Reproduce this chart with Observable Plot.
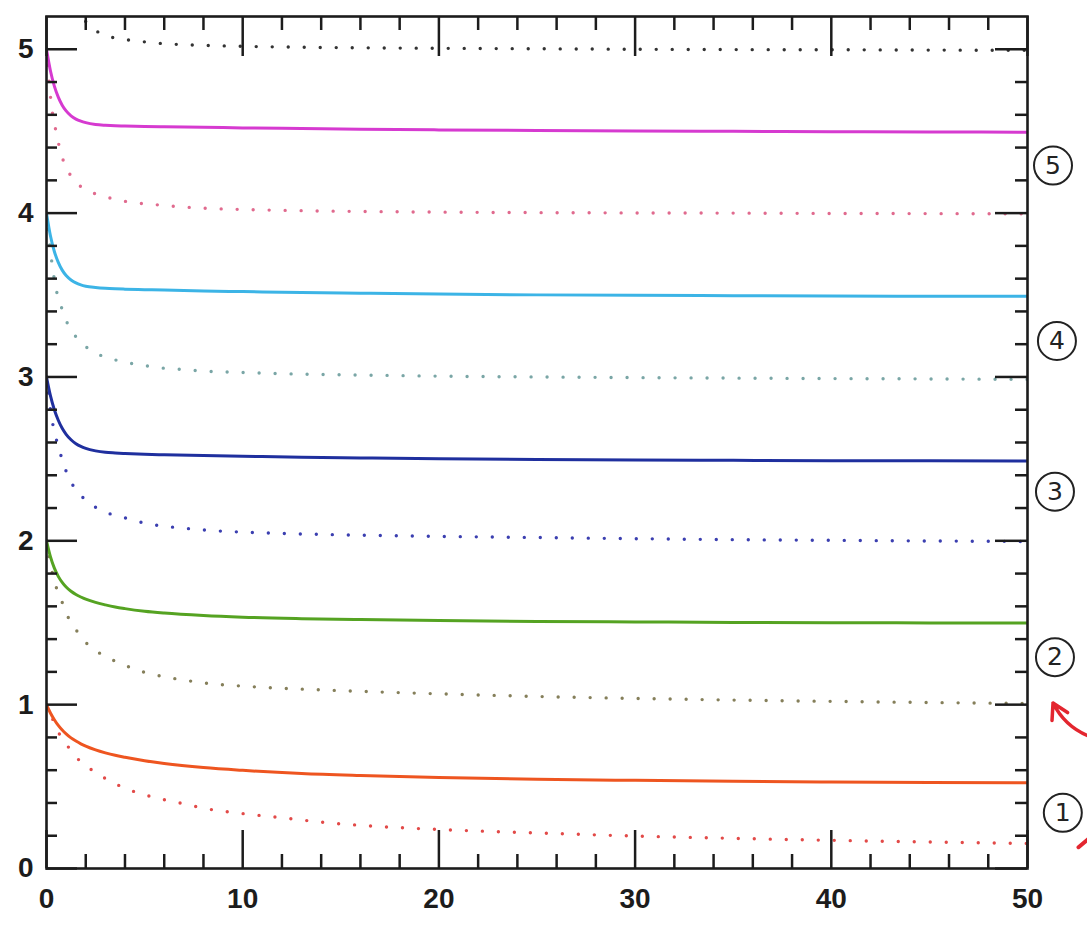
<!DOCTYPE html>
<html>
<head>
<meta charset="utf-8">
<script src="https://cdn.jsdelivr.net/npm/d3@7"></script>
<script src="https://cdn.jsdelivr.net/npm/@observablehq/plot@0.6"></script>
<style>
  html, body { margin: 0; padding: 0; background: #fff; }
  #chart svg { display: block; }
</style>
</head>
<body>
<div id="chart"></div>
<script>
// Relaxation curves: solid lines settle half a unit below their start,
// dotted lines settle a full unit below.
const xSolid = [0, 0.2, 0.4, 0.6, 0.8, 1, 1.25, 1.5, 1.75, 2, 2.5, 3, 3.5, 4, 5, 6, 8, 10, 13, 16, 20, 25, 30, 35, 40, 45, 50];
const solid5 = [5.0, 4.869, 4.775, 4.708, 4.659, 4.624, 4.594, 4.574, 4.561, 4.552, 4.541, 4.536, 4.533, 4.532, 4.529, 4.527, 4.524, 4.520, 4.516, 4.512, 4.508, 4.504, 4.501, 4.499, 4.497, 4.495, 4.494];
const solid4 = [4.0, 3.862, 3.766, 3.699, 3.652, 3.619, 3.592, 3.574, 3.562, 3.554, 3.546, 3.541, 3.538, 3.536, 3.533, 3.530, 3.525, 3.521, 3.515, 3.511, 3.506, 3.501, 3.498, 3.496, 3.494, 3.493, 3.492];
const solid3 = [3.0, 2.886, 2.800, 2.736, 2.687, 2.650, 2.617, 2.593, 2.576, 2.564, 2.549, 2.540, 2.536, 2.533, 2.528, 2.525, 2.520, 2.516, 2.510, 2.506, 2.501, 2.496, 2.493, 2.491, 2.489, 2.488, 2.487];
const solid2 = [2.0, 1.903, 1.833, 1.783, 1.746, 1.718, 1.692, 1.672, 1.657, 1.644, 1.624, 1.609, 1.596, 1.586, 1.570, 1.559, 1.544, 1.534, 1.525, 1.519, 1.513, 1.508, 1.505, 1.502, 1.500, 1.499, 1.498];
const solid1 = [1.0, 0.949, 0.908, 0.873, 0.845, 0.822, 0.797, 0.778, 0.761, 0.747, 0.724, 0.706, 0.691, 0.679, 0.658, 0.641, 0.616, 0.599, 0.580, 0.568, 0.556, 0.545, 0.538, 0.532, 0.528, 0.525, 0.523];

const xDotted = [0, 0.25, 0.5, 0.75, 1, 1.5, 2, 2.5, 3, 4, 5, 6, 7, 8, 10, 12, 14, 17, 20, 25, 30, 35, 40, 45, 50];
const dotted6 = [6.0, 5.72, 5.55, 5.44, 5.36, 5.25, 5.17, 5.115, 5.085, 5.06, 5.045, 5.034, 5.028, 5.024, 5.018, 5.014, 5.011, 5.008, 5.006, 5.003, 5.0, 4.998, 4.997, 4.995, 4.994];
const dotted5 = [5.0, 4.66, 4.49, 4.36, 4.28, 4.19, 4.142, 4.118, 4.1, 4.072, 4.057, 4.047, 4.037, 4.03, 4.022, 4.017, 4.013, 4.009, 4.006, 4.003, 4.001, 4.0, 3.998, 3.997, 3.996];
const dotted4 = [4.0, 3.72, 3.53, 3.43, 3.345, 3.245, 3.185, 3.145, 3.122, 3.09, 3.07, 3.053, 3.045, 3.036, 3.027, 3.02, 3.015, 3.01, 3.005, 3.0, 2.996, 2.993, 2.99, 2.988, 2.985];
const dotted3 = [3.0, 2.76, 2.62, 2.515, 2.425, 2.31, 2.25, 2.205, 2.175, 2.14, 2.108, 2.089, 2.077, 2.066, 2.053, 2.045, 2.039, 2.032, 2.027, 2.02, 2.013, 2.007, 2.003, 1.999, 1.996];
const dotted2 = [2.0, 1.83, 1.715, 1.64, 1.56, 1.458, 1.38, 1.33, 1.295, 1.24, 1.197, 1.17, 1.15, 1.133, 1.113, 1.1, 1.09, 1.077, 1.066, 1.05, 1.038, 1.028, 1.02, 1.013, 1.007];
const dotted1 = [1.0, 0.93, 0.86, 0.80, 0.76, 0.68, 0.63, 0.585, 0.55, 0.49, 0.45, 0.42, 0.395, 0.368, 0.335, 0.31, 0.283, 0.256, 0.238, 0.217, 0.198, 0.184, 0.172, 0.162, 0.153];

// Tick positions
const xMajor = [0, 10, 20, 30, 40, 50];
const xMinor = d3.range(2, 50, 2).filter(v => v % 10 !== 0);
const yMajor = [0, 1, 2, 3, 4, 5];
const yMinor = d3.range(1, 26).map(i => i / 5).filter(v => !Number.isInteger(v));

// Circled labels in the right margin
const noteLabels = ["5", "4", "3", "2", "1"];
const noteX = [51.3, 51.5, 51.4, 51.4, 51.8];
const noteY = [4.29, 3.22, 2.30, 1.29, 0.34];

// Red pointer toward the y = 1 level
const pointer = [{x1: 53.3, y1: 0.80, x2: 51.3, y2: 1.01}];
const pointerTail = [{x: 52.6, y: 0.13}, {x: 53.2, y: 0.19}];

const solidSeries = [
  {values: solid5, color: "#d63ad0"},
  {values: solid4, color: "#3cb4e6"},
  {values: solid3, color: "#1f2f9e"},
  {values: solid2, color: "#55a322"},
  {values: solid1, color: "#ee5520"}
];
const dottedSeries = [
  {values: dotted6, color: "#333333"},
  {values: dotted5, color: "#e06a8e"},
  {values: dotted4, color: "#7aa6a6"},
  {values: dotted3, color: "#3b3fb0"},
  {values: dotted2, color: "#857f5a"},
  {values: dotted1, color: "#e24a48"}
];

const W = 1087, H = 930;
const mL = 46, mR = 60, mT = 16, mB = 62;
const PW = W - mL - mR, PH = H - mT - mB;
const ink = "#1c1c1c";

const toRows = (xs, ys) => xs.map((x, i) => ({x, y: ys[i]}));

const marks = [];

for (const s of dottedSeries) {
  marks.push(Plot.line(toRows(xDotted, s.values), {
    x: "x", y: "y", curve: "monotone-x", clip: true,
    stroke: s.color, strokeWidth: 3.4, strokeLinecap: "round",
    strokeDasharray: "0 16"
  }));
}
for (const s of solidSeries) {
  marks.push(Plot.line(toRows(xSolid, s.values), {
    x: "x", y: "y", curve: "monotone-x", clip: true,
    stroke: s.color, strokeWidth: 3
  }));
}

// Inward ticks on all four sides
marks.push(
  Plot.tickX(xMajor, {x: d => d, insetTop: PH - 38, stroke: ink, strokeWidth: 2.5}),
  Plot.tickX(xMinor, {x: d => d, insetTop: PH - 14, stroke: ink, strokeWidth: 2.5}),
  Plot.tickX(xMajor, {x: d => d, insetBottom: PH - 40, stroke: ink, strokeWidth: 2.5}),
  Plot.tickX(xMinor, {x: d => d, insetBottom: PH - 14, stroke: ink, strokeWidth: 2.5}),
  Plot.tickY(yMajor, {y: d => d, insetRight: PW - 31, stroke: ink, strokeWidth: 2.5}),
  Plot.tickY(yMinor, {y: d => d, insetRight: PW - 11, stroke: ink, strokeWidth: 2.5}),
  Plot.tickY(yMajor, {y: d => d, insetLeft: PW - 32, stroke: ink, strokeWidth: 2.5}),
  Plot.tickY(yMinor, {y: d => d, insetLeft: PW - 12, stroke: ink, strokeWidth: 2.5}),
  Plot.frame({stroke: ink, strokeWidth: 2.6}),
  Plot.axisX(xMajor, {tickSize: 0, tickPadding: 20, fontSize: 28, fontWeight: "bold", fill: ink, label: null, tickFormat: d => String(d)}),
  Plot.axisY(yMajor, {tickSize: 0, tickPadding: 13, fontSize: 28, fontWeight: "bold", fill: ink, label: null, tickFormat: d => String(d)})
);

// Margin annotations
const notes = noteLabels.map((t, i) => ({t, x: noteX[i], y: noteY[i]}));
marks.push(
  Plot.dot(notes, {x: "x", y: "y", r: 19, stroke: "#222", strokeWidth: 2, fill: "none"}),
  Plot.text(notes, {x: "x", y: "y", text: "t", fontSize: 25, fontFamily: "DejaVu Sans", fill: "#222"}),
  Plot.arrow(pointer, {x1: "x1", y1: "y1", x2: "x2", y2: "y2", bend: 22, stroke: "#e3262f", strokeWidth: 3.5, headLength: 14}),
  Plot.line(pointerTail, {x: "x", y: "y", stroke: "#e3262f", strokeWidth: 4, strokeLinecap: "round"})
);

const chart = Plot.plot({
  width: W, height: H,
  marginLeft: mL, marginRight: mR, marginTop: mT, marginBottom: mB,
  x: {domain: [0, 50]},
  y: {domain: [0, 5.2]},
  style: {fontFamily: "Liberation Sans, Arial, sans-serif", background: "#fff", overflow: "visible"},
  marks
});
document.getElementById("chart").appendChild(chart);
</script>
</body>
</html>
